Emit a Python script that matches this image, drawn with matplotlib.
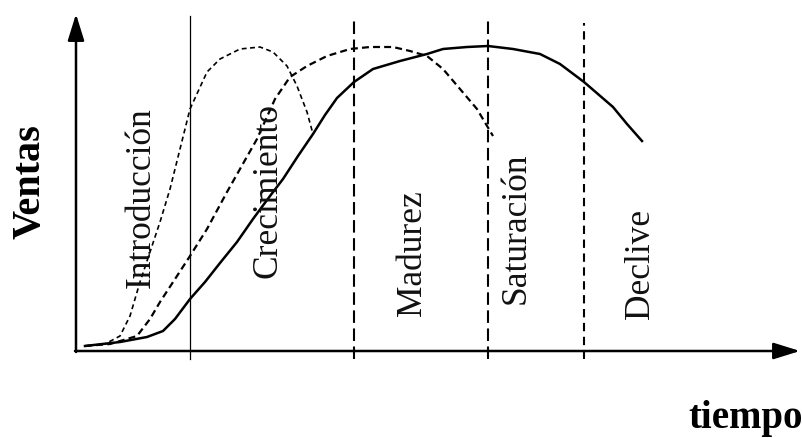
import numpy as np
import matplotlib
matplotlib.use('Agg')
import matplotlib.pyplot as plt

plt.rcParams['lines.scale_dashes'] = False
plt.rcParams['font.family'] = ['Liberation Serif', 'DejaVu Serif']

# curves (x = tiempo, y = ventas, arbitrary units)
prod_x = [9, 44, 71, 87, 99, 114, 129, 144, 161, 177, 194, 207, 222, 237, 249, 261, 278,
          297, 324, 351, 367, 391, 412, 437, 464, 484, 508, 537, 551, 566]
prod_y = [5, 9, 14, 20, 32, 52, 69, 88, 109, 132, 155, 172, 195, 217, 236, 253, 269,
          282, 290, 297, 302, 304, 305, 302, 297, 287, 269, 244, 227, 210]

moda_x = [9, 29, 44, 54, 64, 74, 84, 94, 104, 114, 131, 144, 164, 184, 197, 211, 221, 231, 237]
moda_y = [5, 7, 15, 35, 69, 99, 129, 162, 202, 242, 279, 292, 302, 304, 299, 285, 265, 239, 217]

marca_x = [9, 34, 61, 74, 84, 101, 114, 131, 151, 164, 181, 199, 214, 231, 251, 274, 294,
           317, 334, 351, 367, 384, 401, 417]
marca_y = [5, 7, 15, 32, 49, 75, 95, 122, 159, 182, 212, 252, 274, 285, 295, 302, 304,
           304, 300, 295, 282, 262, 242, 215]

# phase boundaries and labels
limites = [114, 278, 412, 508]
limites_top = [335, 335, 335, 328]
etapas = ['Introducción', 'Crecimiento', 'Madurez', 'Saturación', 'Declive']
etapa_x = [65, 192, 336, 440, 565]
etapa_y = [154, 162, 99, 124, 88]

fig = plt.figure(figsize=(8.02, 4.39), dpi=100)
ax = fig.add_axes([0, 0, 1, 1])
ax.set_xlim(-76, 726)
ax.set_ylim(-87, 352)
ax.axis('off')

# axes with arrows
arr = dict(arrowstyle='-|>,head_length=0.9,head_width=0.28', lw=1.8, color='k',
           shrinkA=0, shrinkB=0, mutation_scale=18)
ax.annotate('', xy=(724, 0), xytext=(-1, 0), arrowprops=arr)
ax.annotate('', xy=(0, 337), xytext=(0, -1), arrowprops=arr)

# vertical lines
styles = [dict(lw=0.9, ls='-'),
          dict(lw=1.5, dashes=(9, 4)),
          dict(lw=1.5, dashes=(9, 4)),
          dict(lw=1.5, dashes=(6, 4))]
for xv, top, st in zip(limites, limites_top, styles):
    ax.plot([xv, xv], [-8, top], color='k', **st)

ax.plot(moda_x, moda_y, color='k', lw=1.2, dashes=(3.5, 2.5))
ax.plot(marca_x, marca_y, color='k', lw=1.6, dashes=(5, 3))
ax.plot(prod_x, prod_y, color='k', lw=1.8, solid_joinstyle='round')

for t, xt, yt in zip(etapas, etapa_x, etapa_y):
    ax.text(xt, yt, t, rotation=90, ha='center', va='center', fontsize=25.5, color='#111')

ax.text(-46, 170, 'Ventas', rotation=90, ha='center', va='center', fontsize=29,
        fontweight='bold')
ax.text(612, -76, 'tiempo', ha='left', va='baseline', fontsize=28, fontweight='bold')

plt.savefig('out.png', dpi=100)
